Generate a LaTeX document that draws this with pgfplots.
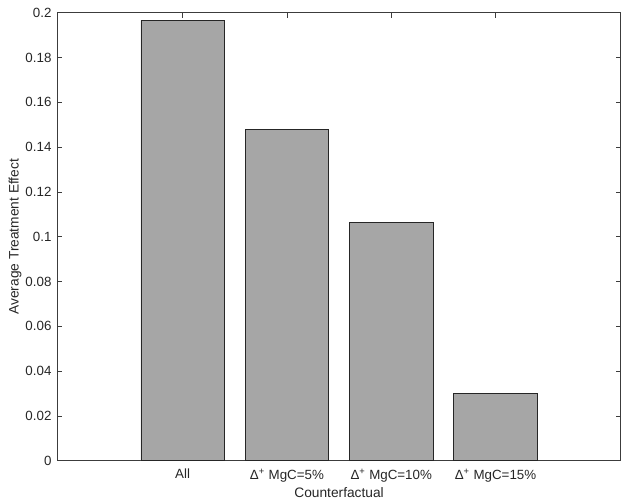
\documentclass[border=0pt]{standalone}
\usepackage{pgfplots}
\pgfplotsset{compat=1.18}
\usepackage{fontspec}
\setmainfont{Liberation Sans}
\definecolor{barfill}{RGB}{166,166,166}
\definecolor{axcol}{RGB}{60,60,60}
\definecolor{txtcol}{RGB}{38,38,38}
\begin{document}
\begin{tikzpicture}
\begin{axis}[
  name=ax,
  scale only axis,
  width=422.25pt, height=336pt,
  xmin=-0.2, xmax=5.2,
  ymin=0, ymax=0.2,
  xtick={1,2,3,4},
  xticklabels={All, Δ\textsuperscript{+} MgC=5\%, Δ\textsuperscript{+} MgC=10\%, Δ\textsuperscript{+} MgC=15\%},
  ytick={0,0.02,0.04,0.06,0.08,0.1,0.12,0.14,0.16,0.18,0.2},
  yticklabels={0,0.02,0.04,0.06,0.08,0.1,0.12,0.14,0.16,0.18,0.2},
  tick align=inside,
  major tick length=3.75pt,
  axis line style={axcol, line width=0.5pt},
  every tick/.style={axcol, line width=0.5pt},
  tick label style={font=\fontsize{10}{12}\selectfont, text=txtcol},
  /pgf/number format/assume math mode=true,
  xlabel={Counterfactual},
  ylabel={Average Treatment Effect},
  label style={font=\fontsize{10.3}{12}\selectfont, text=txtcol},
  xlabel style={at={(axis description cs:0.5,-0.072)}, anchor=center},
  ylabel style={at={(axis description cs:-0.0755,0.5)}, anchor=center, rotate=0},
  xticklabel style={yshift=-2.5pt},
  yticklabel style={xshift=-1pt},
  clip=false,
]
\addplot[ybar, bar width=0.8, fill=barfill, draw=black!85, line width=0.5pt] coordinates {
  (1,0.1966) (2,0.1479) (3,0.1063) (4,0.0299)
};
\end{axis}
\useasboundingbox ([xshift=-43.1pt,yshift=-31pt]ax.south west) rectangle ([yshift=9.5pt]ax.north east);
\end{tikzpicture}
\end{document}
